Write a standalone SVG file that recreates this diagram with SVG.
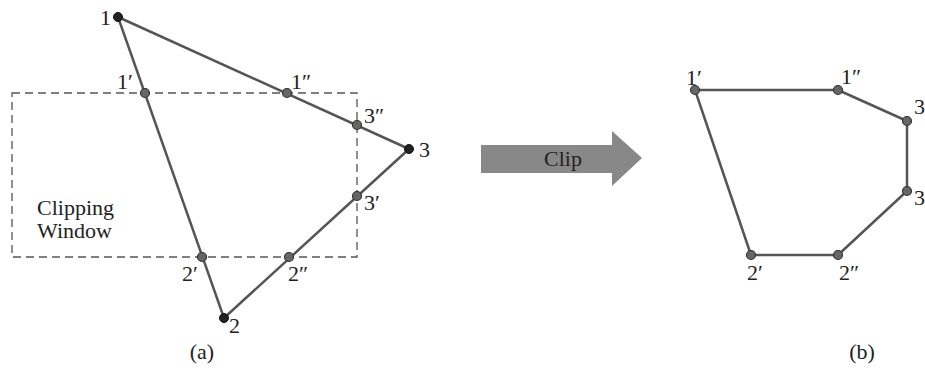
<svg xmlns="http://www.w3.org/2000/svg" width="925" height="375" viewBox="0 0 925 375">
<style>
.edge{fill:none;stroke:#555;stroke-width:2.5;stroke-linejoin:round}
.win{fill:none;stroke:#555;stroke-width:1.3;stroke-dasharray:8 5}
.pt{fill:#666;stroke:#333;stroke-width:1.2}
.end{fill:#222;stroke:#111;stroke-width:1}
text{font-family:"Liberation Serif","Times New Roman",serif;font-size:22px;fill:#222}
</style>
<rect width="925" height="375" fill="#fff"/>
<g id="window"><rect class="win" x="12" y="93" width="345" height="164"/>
<text x="37" y="215">Clipping</text><text x="37" y="238">Window</text></g>
<g id="connectors">
<polygon class="edge" points="118,17 409,149 224,318"/>
<polygon class="edge" points="695,90 838,90 907,121 907,191 838,255 751,255"/>
</g>
<g id="p1"><circle class="end" cx="118" cy="17" r="4.5"/><text x="100" y="25">1</text></g>
<g id="p2"><circle class="end" cx="224" cy="318" r="4.5"/><text x="229" y="333">2</text></g>
<g id="p3"><circle class="end" cx="409" cy="149" r="4.5"/><text x="419" y="157">3</text></g>
<g id="p1a"><circle class="pt" cx="145" cy="93" r="4.5"/><text x="117" y="89">1′</text></g>
<g id="p1b"><circle class="pt" cx="287" cy="93" r="4.5"/><text x="291" y="89">1″</text></g>
<g id="p3b"><circle class="pt" cx="357" cy="125" r="4.5"/><text x="364" y="123">3″</text></g>
<g id="p3a"><circle class="pt" cx="357" cy="196" r="4.5"/><text x="364" y="210">3′</text></g>
<g id="p2a"><circle class="pt" cx="202" cy="257" r="4.5"/><text x="182" y="281">2′</text></g>
<g id="p2b"><circle class="pt" cx="289" cy="257" r="4.5"/><text x="288" y="281">2″</text></g>
<g id="arrow"><polygon points="481,145 612,145 612,131 642,158 612,186 612,173 481,173" fill="#888"/>
<text x="563" y="166" text-anchor="middle" fill="#333">Clip</text></g>
<g id="q1a"><circle class="pt" cx="695" cy="90" r="4.5"/><text x="686" y="85">1′</text></g>
<g id="q1b"><circle class="pt" cx="838" cy="90" r="4.5"/><text x="841" y="84">1″</text></g>
<g id="q3b"><circle class="pt" cx="907" cy="121" r="4.5"/><text x="914" y="114">3</text></g>
<g id="q3a"><circle class="pt" cx="907" cy="191" r="4.5"/><text x="914" y="205">3</text></g>
<g id="q2b"><circle class="pt" cx="838" cy="255" r="4.5"/><text x="839" y="280">2″</text></g>
<g id="q2a"><circle class="pt" cx="751" cy="255" r="4.5"/><text x="747" y="280">2′</text></g>
<text x="202" y="359" text-anchor="middle">(a)</text>
<text x="862" y="359" text-anchor="middle">(b)</text>
</svg>
